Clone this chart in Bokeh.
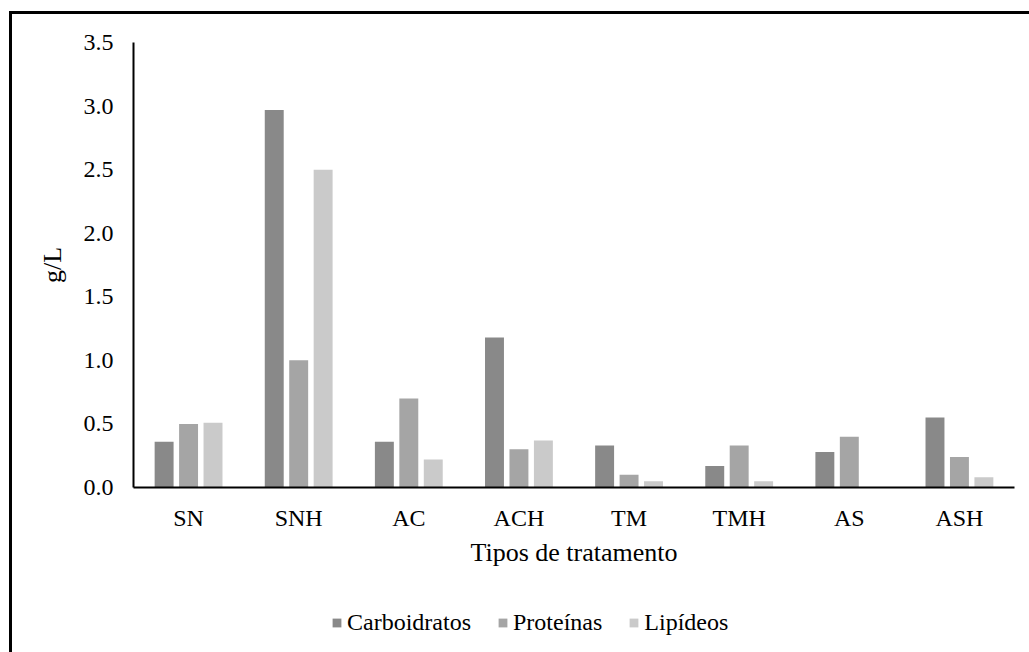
from bokeh.plotting import figure
from bokeh.layouts import column
from bokeh.models import (ColumnDataSource, FactorRange, Range1d, FixedTicker,
                          PrintfTickFormatter, Legend, LegendItem)
from bokeh.transform import dodge
from bokeh.embed import file_html
from bokeh.resources import INLINE

# Treatment types and composition (g/L)
tratamentos = ["SN", "SNH", "AC", "ACH", "TM", "TMH", "AS", "ASH"]
carboidratos = [0.36, 2.97, 0.36, 1.18, 0.33, 0.17, 0.28, 0.55]
proteinas = [0.50, 1.00, 0.70, 0.30, 0.10, 0.33, 0.40, 0.24]
lipideos = [0.51, 2.50, 0.22, 0.37, 0.05, 0.05, 0.00, 0.08]
y_ticks = [0.0, 0.5, 1.0, 1.5, 2.0, 2.5, 3.0, 3.5]

FONT = "Liberation Serif"

source = ColumnDataSource(dict(
    trat=tratamentos, carb=carboidratos, prot=proteinas, lip=lipideos))

p = figure(
    width=1017, height=586,
    x_range=FactorRange(*tratamentos, range_padding=0),
    y_range=Range1d(0, 3.5),
    output_backend="svg", toolbar_location=None,
    min_border_left=121, min_border_top=28,
    min_border_bottom=113, min_border_right=15,
)
p.outline_line_color = None
p.xgrid.grid_line_color = None
p.ygrid.grid_line_color = None

bar_w = 0.172
series = [
    ("carb", -0.222, "#898989", "Carboidratos"),
    ("prot", 0.0, "#a5a5a5", "Proteínas"),
    ("lip", 0.222, "#cacaca", "Lipídeos"),
]
for col, off, color, label in series:
    p.vbar(x=dodge("trat", off, range=p.x_range), top=col, width=bar_w,
           bottom=0, source=source, fill_color=color, line_color=None)

# Axes
p.yaxis.ticker = FixedTicker(ticks=y_ticks)
p.yaxis.formatter = PrintfTickFormatter(format="%.1f")
p.yaxis.axis_label = "g/L"
p.xaxis.axis_label = "Tipos de tratamento"
for ax in (p.xaxis[0], p.yaxis[0]):
    ax.axis_line_color = "black"
    ax.axis_line_width = 2
    ax.major_tick_line_color = None
    ax.minor_tick_line_color = None
    ax.major_tick_out = 0
    ax.major_tick_in = 0
    ax.major_label_text_font = FONT
    ax.major_label_text_font_size = "24px"
    ax.major_label_text_color = "black"
    ax.axis_label_text_font = FONT
    ax.axis_label_text_font_size = "26px"
    ax.axis_label_text_font_style = "normal"
    ax.axis_label_text_color = "black"
p.yaxis.major_label_standoff = 20
p.yaxis.axis_label_standoff = 14
p.xaxis.major_label_standoff = 17
p.xaxis.axis_label_standoff = 4

# Legend strip underneath the chart; its bars sit outside the strip's
# visible y range so only the legend swatches show.
lf = figure(
    width=1017, height=52,
    x_range=FactorRange(*tratamentos, range_padding=0),
    y_range=Range1d(10, 11),
    output_backend="svg", toolbar_location=None,
    x_axis_location=None, y_axis_location=None,
    min_border=0, outline_line_color=None,
)
lf.grid.visible = False
items = []
for col, off, color, label in series:
    r = lf.vbar(x=dodge("trat", off, range=lf.x_range), top=col, width=bar_w,
                bottom=0, source=source, fill_color=color, line_color=None)
    items.append(LegendItem(label=label, renderers=[r]))
legend = Legend(
    items=items, orientation="horizontal", location=(198, 16),
    glyph_width=11, glyph_height=11, label_standoff=5, spacing=26,
    padding=0, margin=0, border_line_color=None, background_fill_alpha=0,
    label_text_font=FONT, label_text_font_size="24px", label_text_color="black",
)
lf.add_layout(legend, "center")

page = column(p, lf, spacing=0)
page.margin = (11, 0, 0, 9)
page.styles = {"border-left": "3px solid black", "border-top": "3px solid black"}

open("out.html", "w").write(file_html(page, INLINE))
